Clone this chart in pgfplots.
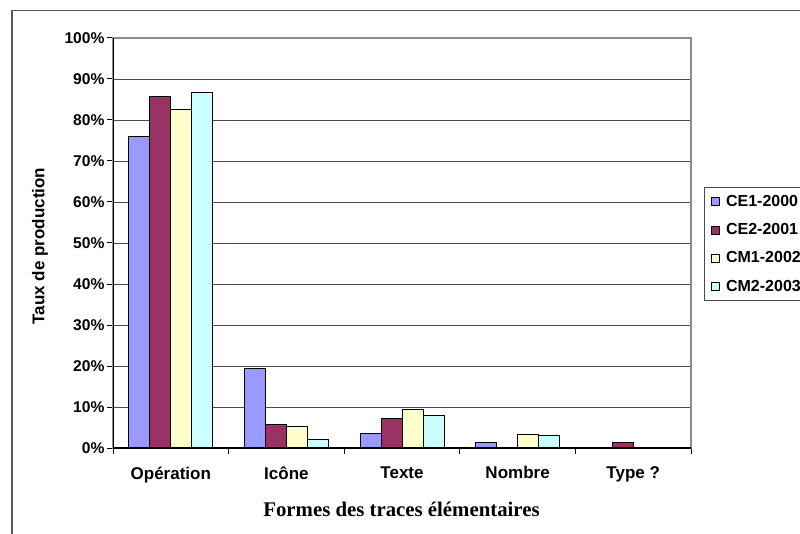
\documentclass[border=0pt]{standalone}
\usepackage{fontspec}
\setmainfont{Liberation Sans}
\newfontfamily\timesfont{Liberation Serif}
\usepackage{pgfplots}
\pgfplotsset{compat=1.18}
\definecolor{ceone}{HTML}{9999FF}
\definecolor{cetwo}{HTML}{993366}
\definecolor{cmone}{HTML}{FFFFCC}
\definecolor{cmtwo}{HTML}{CCFFFF}
\pgfplotsset{sqleg/.style={legend image code/.code={\draw[##1,line width=0.7pt] (0pt,-4pt) rectangle (8pt,4pt);}}}
\begin{document}
\begin{tikzpicture}
\useasboundingbox (0pt,0pt) rectangle (800pt,-534pt);
\draw[black!65, line width=1.3pt] (12pt,-540pt) -- (12pt,-10.5pt) -- (810pt,-10.5pt);
\begin{axis}[at={(113pt,-448pt)}, anchor=south west, scale only axis,
  width=578pt, height=410pt,
  ymin=0, ymax=100, xmin=-0.5, xmax=4.5,
  ybar=0pt, bar width=21pt,
  /pgf/number format/assume math mode=true,
  ytick={0,10,...,100},
  yticklabel={\pgfmathprintnumber{\tick}\%},
  yticklabel style={font=\fontsize{15.6}{18}\selectfont\bfseries, xshift=1pt},
  xtick={0,...,4},
  xticklabels={Opération, Icône, Texte, Nombre, Type ?},
  xticklabel style={font=\fontsize{17}{20}\selectfont\bfseries, yshift=-9pt},
  minor xtick={-0.5,0.5,...,4.5},
  major x tick style={draw=none},
  tick align=outside, xtick pos=bottom, ytick pos=left,
  major tick length=6pt, minor tick length=6pt,
  tick style={black, line width=1pt},
  ymajorgrids, major grid style={black!70, line width=0.8pt},
  axis line style={black!45, line width=1.2pt},
  xlabel={\timesfont\bfseries Formes des traces élémentaires},
  xlabel style={font=\fontsize{20.8}{24}\selectfont, at={(axis description cs:0.4991,-0.1488)}, anchor=center},
  ylabel={Taux de production},
  ylabel style={font=\fontsize{17}{20}\selectfont\bfseries, at={(axis description cs:-0.1263,0.4927)}, anchor=center},
  legend style={at={(axis description cs:1.0225,0.6366)}, anchor=north west,
    draw=black!70, line width=0.8pt, font=\fontsize{16}{19}\selectfont\bfseries,
    row sep=11.5pt, column sep=4pt, inner xsep=7pt, inner ysep=6pt},
  legend cell align=left,
]
\addplot[fill=ceone, draw=black, line width=1pt, sqleg] coordinates {(0,76.0) (1,19.3) (2,3.6) (3,1.3)};
\addplot[fill=cetwo, draw=black, line width=1pt, sqleg] coordinates {(0,85.7) (1,5.8) (2,7.1) (4,1.3)};
\addplot[fill=cmone, draw=black, line width=1pt, sqleg] coordinates {(0,82.5) (1,5.2) (2,9.3) (3,3.2)};
\addplot[fill=cmtwo, draw=black, line width=1pt, sqleg] coordinates {(0,86.8) (1,2.0) (2,8.0) (3,3.0)};
\legend{CE1-2000, CE2-2001, CM1-2002, CM2-2003}
\draw[black, line width=1.3pt] (rel axis cs:0,1) -- (rel axis cs:0,0) -- (rel axis cs:1,0);
\end{axis}
\end{tikzpicture}
\end{document}
